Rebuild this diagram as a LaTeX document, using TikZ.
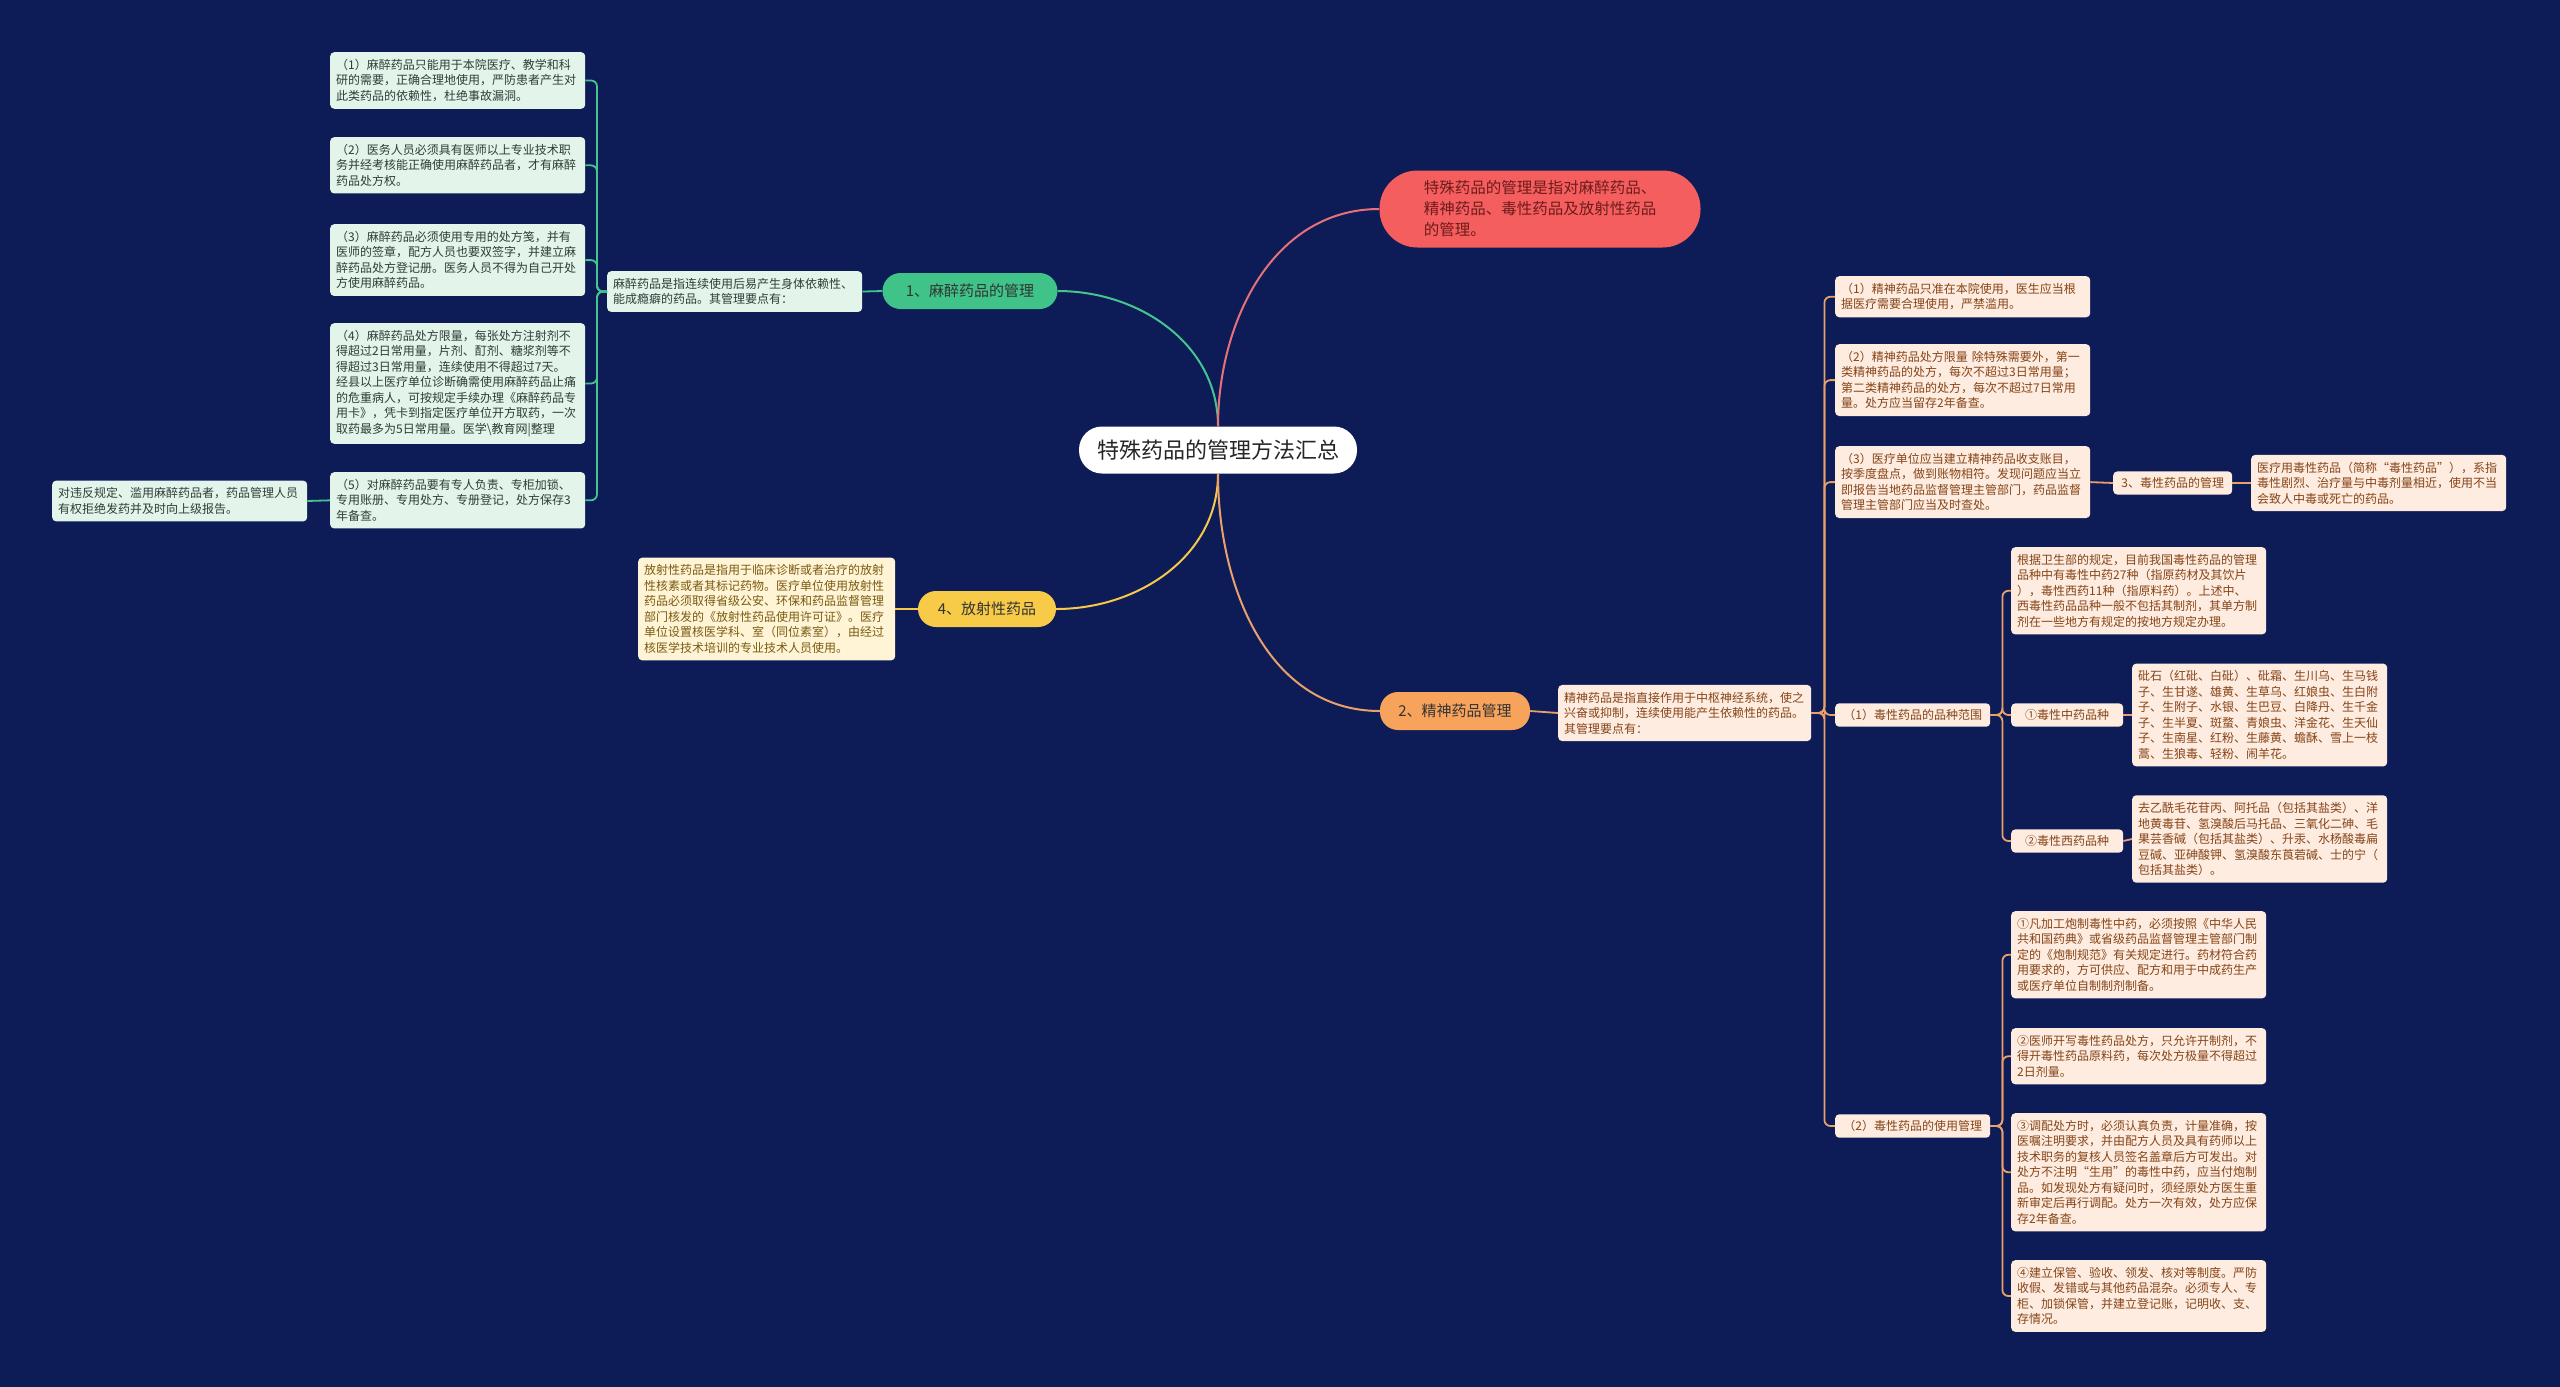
\documentclass[tikz,border=0pt]{standalone}
\usepackage{fontspec}
\setmainfont{Noto Sans CJK SC}
\definecolor{bg}{HTML}{0D1C56}
\definecolor{gfill}{HTML}{E3F4EA}
\definecolor{gtext}{HTML}{2F3D36}
\definecolor{gline}{HTML}{45C48F}
\definecolor{gpill}{HTML}{3FC388}
\definecolor{yfill}{HTML}{FFF5D6}
\definecolor{ytext}{HTML}{7A5A10}
\definecolor{yline}{HTML}{F7C948}
\definecolor{ypill}{HTML}{F7CA47}
\definecolor{ofill}{HTML}{FDECDF}
\definecolor{otext}{HTML}{864418}
\definecolor{oline}{HTML}{E9A06B}
\definecolor{opill}{HTML}{F7A35B}
\definecolor{rfill}{HTML}{F45E5E}
\definecolor{rtext}{HTML}{6E1B1B}
\definecolor{rline}{HTML}{E8707A}
\begin{document}
\begin{tikzpicture}[x=1pt,y=-1pt,
  txt/.style={font=\fontsize{12}{15.5}\selectfont, inner xsep=6pt, inner ysep=7pt, rounded corners=4pt, align=left},
  gleaf/.style={txt, fill=gfill, text=gtext, text width=243pt, anchor=north west},
  oleaf/.style={txt, fill=ofill, text=otext, text width=243pt, anchor=north west},
  yleaf/.style={txt, fill=yfill, text=ytext, text width=245pt, anchor=north west},
  osmall/.style={txt, fill=ofill, text=otext, anchor=west, inner ysep=6pt, align=center},
  pill/.style={font=\fontsize{15}{18}\selectfont, rounded corners=18pt, minimum height=36pt, inner sep=0pt},
  gl/.style={draw=gline, line width=1.8pt, rounded corners=6pt},
  ol/.style={draw=oline, line width=1.8pt, rounded corners=6pt},
  yl/.style={draw=yline, line width=1.8pt},
  curve/.style={line width=2pt}
]
\fill[bg] (0,0) rectangle (2560,1387);
\useasboundingbox (0,0) rectangle (2560,1387);

% root
\node[fill=white, text=black!85, font=\fontsize{22}{26}\selectfont, rounded corners=23pt, minimum width=278pt, minimum height=47pt, inner sep=0pt] (root) at (1218,450) {特殊药品的管理方法汇总};

% red
\node[fill=rfill, text=rtext, font=\fontsize{15.5}{21}\selectfont, rounded corners=38pt, minimum width=321pt, minimum height=77pt, align=left, inner sep=0pt] (red) at (1540,209) {特殊药品的管理是指对麻醉药品、\\精神药品、毒性药品及放射性药品\\的管理。};

% branch 1 green
\node[pill, fill=gpill, text=black!80, minimum width=175pt] (p1) at (970,291) {1、麻醉药品的管理};
\node[gleaf, text width=243pt] (mdesc) at (607,271) {麻醉药品是指连续使用后易产生身体依赖性、\\能成瘾癖的药品。其管理要点有：};
\node[gleaf] (l1) at (330,52) {（1）麻醉药品只能用于本院医疗、教学和科\\研的需要，正确合理地使用，严防患者产生对\\此类药品的依赖性，杜绝事故漏洞。};
\node[gleaf] (l2) at (330,137) {（2）医务人员必须具有医师以上专业技术职\\务并经考核能正确使用麻醉药品者，才有麻醉\\药品处方权。};
\node[gleaf] (l3) at (330,224) {（3）麻醉药品必须使用专用的处方笺，并有\\医师的签章，配方人员也要双签字，并建立麻\\醉药品处方登记册。医务人员不得为自己开处\\方使用麻醉药品。};
\node[gleaf] (l4) at (330,323) {（4）麻醉药品处方限量，每张处方注射剂不\\得超过2日常用量，片剂、酊剂、糖浆剂等不\\得超过3日常用量，连续使用不得超过7天。\\经县以上医疗单位诊断确需使用麻醉药品止痛\\的危重病人，可按规定手续办理《麻醉药品专\\用卡》，凭卡到指定医疗单位开方取药，一次\\取药最多为5日常用量。医学\textbackslash 教育网|整理};
\node[gleaf] (l5) at (330,472) {（5）对麻醉药品要有专人负责、专柜加锁、\\专用账册、专用处方、专册登记，处方保存3\\年备查。};
\node[gleaf, anchor=west] (lfar) at (52,501) {对违反规定、滥用麻醉药品者，药品管理人员\\有权拒绝发药并及时向上级报告。};

% branch 4 yellow
\node[pill, fill=ypill, text=black!80, minimum width=138pt] (p4) at (987,609) {4、放射性药品};
\node[yleaf, anchor=west] (ydesc) at (638,609) {放射性药品是指用于临床诊断或者治疗的放射\\性核素或者其标记药物。医疗单位使用放射性\\药品必须取得省级公安、环保和药品监督管理\\部门核发的《放射性药品使用许可证》。医疗\\单位设置核医学科、室（同位素室），由经过\\核医学技术培训的专业技术人员使用。};

% branch 2 orange
\node[pill, fill=opill, text=black!80, minimum width=150pt, minimum height=38pt] (p2) at (1455,711) {2、精神药品管理};
\node[oleaf, text width=241pt, anchor=west] (jdesc) at (1558,713) {精神药品是指直接作用于中枢神经系统，使之\\兴奋或抑制，连续使用能产生依赖性的药品。\\其管理要点有：};
\node[oleaf] (r1) at (1835,276) {（1）精神药品只准在本院使用，医生应当根\\据医疗需要合理使用，严禁滥用。};
\node[oleaf] (r2) at (1835,344) {（2）精神药品处方限量 除特殊需要外，第一\\类精神药品的处方，每次不超过3日常用量；\\第二类精神药品的处方，每次不超过7日常用\\量。处方应当留存2年备查。};
\node[oleaf] (r3) at (1835,446) {（3）医疗单位应当建立精神药品收支账目，\\按季度盘点，做到账物相符。发现问题应当立\\即报告当地药品监督管理主管部门，药品监督\\管理主管部门应当及时查处。};
\node[osmall, minimum width=119pt] (t3) at (2113,483) {3、毒性药品的管理};
\node[oleaf, anchor=west] (t3d) at (2251,483) {医疗用毒性药品（简称“毒性药品”），系指\\毒性剧烈、治疗量与中毒剂量相近，使用不当\\会致人中毒或死亡的药品。};
\node[osmall, minimum width=155pt] (tz1) at (1835,715) {（1）毒性药品的品种范围};
\node[osmall, minimum width=155pt] (tz2) at (1835,1126) {（2）毒性药品的使用管理};
\node[oleaf] (k1) at (2011,547) {根据卫生部的规定，目前我国毒性药品的管理\\品种中有毒性中药27种（指原药材及其饮片\\），毒性西药11种（指原料药）。上述中、\\西毒性药品品种一般不包括其制剂，其单方制\\剂在一些地方有规定的按地方规定办理。};
\node[osmall, minimum width=112pt] (k2) at (2011,715) {①毒性中药品种};
\node[osmall, minimum width=112pt] (k3) at (2011,841) {②毒性西药品种};
\node[oleaf, anchor=west] (k2d) at (2132,715) {砒石（红砒、白砒）、砒霜、生川乌、生马钱\\子、生甘遂、雄黄、生草乌、红娘虫、生白附\\子、生附子、水银、生巴豆、白降丹、生千金\\子、生半夏、斑蝥、青娘虫、洋金花、生天仙\\子、生南星、红粉、生藤黄、蟾酥、雪上一枝\\蒿、生狼毒、轻粉、闹羊花。};
\node[oleaf, anchor=west] (k3d) at (2132,839) {去乙酰毛花苷丙、阿托品（包括其盐类）、洋\\地黄毒苷、氢溴酸后马托品、三氧化二砷、毛\\果芸香碱（包括其盐类）、升汞、水杨酸毒扁\\豆碱、亚砷酸钾、氢溴酸东莨菪碱、士的宁（\\包括其盐类）。};
\node[oleaf] (u1) at (2011,911) {①凡加工炮制毒性中药，必须按照《中华人民\\共和国药典》或省级药品监督管理主管部门制\\定的《炮制规范》有关规定进行。药材符合药\\用要求的，方可供应、配方和用于中成药生产\\或医疗单位自制制剂制备。};
\node[oleaf] (u2) at (2011,1028) {②医师开写毒性药品处方，只允许开制剂，不\\得开毒性药品原料药，每次处方极量不得超过\\2日剂量。};
\node[oleaf] (u3) at (2011,1113) {③调配处方时，必须认真负责，计量准确，按\\医嘱注明要求，并由配方人员及具有药师以上\\技术职务的复核人员签名盖章后方可发出。对\\处方不注明“生用”的毒性中药，应当付炮制\\品。如发现处方有疑问时，须经原处方医生重\\新审定后再行调配。处方一次有效，处方应保\\存2年备查。};
\node[oleaf] (u4) at (2011,1260) {④建立保管、验收、领发、核对等制度。严防\\收假、发错或与其他药品混杂。必须专人、专\\柜、加锁保管，并建立登记账，记明收、支、\\存情况。};

% main curves
\draw[curve, draw=gline] (root.north) to[out=90,in=0] (p1.east);
\draw[curve, draw=rline] (root.north) to[out=90,in=180] (red.west);
\draw[curve, draw=yline] (root.south) to[out=-90,in=0] (p4.east);
\draw[curve, draw=oline] (root.south) to[out=-90,in=180] (p2.west);

% green connectors
\draw[gl] (p1.west) -- (mdesc.east);
\foreach \c in {l1,l2,l3,l4,l5} \draw[gl] (mdesc.west) -- ++(-10,0) |- (\c.east);
\draw[gl] (l5.west) -- (lfar.east);

% yellow
\draw[yl] (p4.west) -- (ydesc.east);

% orange
\draw[ol] (p2.east) -- (jdesc.east -| jdesc.west);
\foreach \c in {r1,r2,r3,tz1,tz2} \draw[ol] (jdesc.east) -- ++(13,0) |- (\c.west);
\draw[ol] (r3.east) -- (t3.west);
\draw[ol] (t3.east) -- (t3d.west);
\foreach \c in {k1,k2,k3} \draw[ol] (tz1.east) -- ++(12,0) |- (\c.west);
\foreach \c in {u1,u2,u3,u4} \draw[ol] (tz2.east) -- ++(12,0) |- (\c.west);
\draw[ol] (k2.east) -- (k2d.west);
\draw[ol] (k3.east) -- (k3d.west);
\end{tikzpicture}
\end{document}
